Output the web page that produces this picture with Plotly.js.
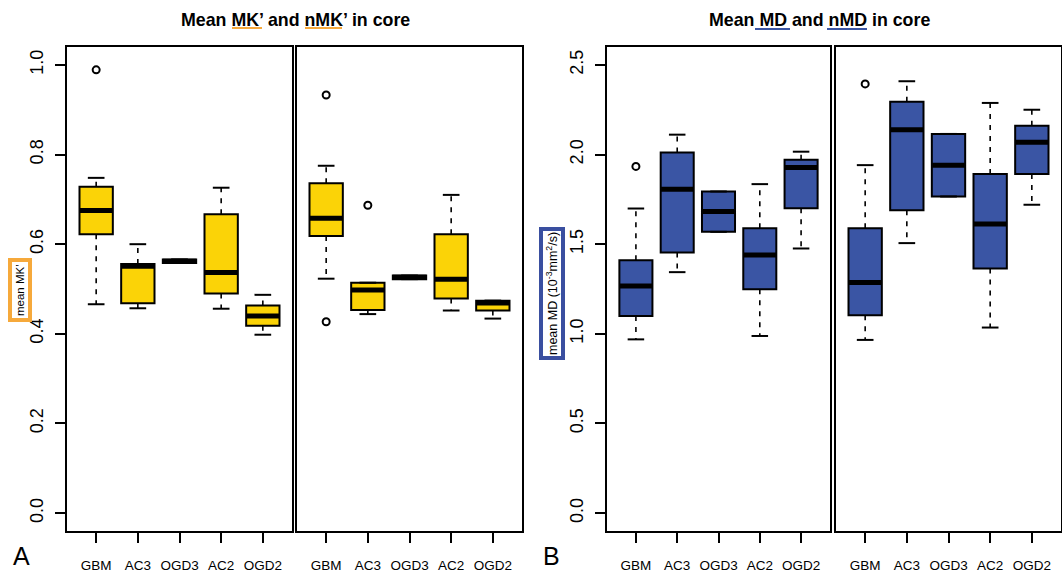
<!DOCTYPE html>
<html><head><meta charset="utf-8">
<script src="https://cdn.plot.ly/plotly-3.0.1.min.js"></script>
<style>html,body{margin:0;padding:0;background:#fff}</style>
</head><body><div id="chart" style="width:1062px;height:573px"></div>
<script>
const categories = ['GBM','AC3','OGD3','AC2','OGD2'];

// Panel A left: mean MK'
const mk_lower  = [0.466, 0.457, 0.558, 0.456, 0.398];
const mk_q1     = [0.622, 0.468, 0.558, 0.490, 0.418];
const mk_median = [0.675, 0.551, 0.562, 0.537, 0.440];
const mk_q3     = [0.728, 0.556, 0.566, 0.667, 0.463];
const mk_upper  = [0.748, 0.600, 0.566, 0.726, 0.487];
const mk_outCat = ['GBM'];
const mk_outVal = [0.989];

// Panel A right: normalized MK'
const nmk_lower  = [0.523, 0.444, 0.522, 0.452, 0.434];
const nmk_q1     = [0.618, 0.453, 0.522, 0.479, 0.452];
const nmk_median = [0.658, 0.498, 0.526, 0.522, 0.469];
const nmk_q3     = [0.736, 0.514, 0.530, 0.622, 0.474];
const nmk_upper  = [0.775, 0.514, 0.530, 0.710, 0.474];
const nmk_outCat = ['GBM', 'GBM', 'AC3'];
const nmk_outVal = [0.933, 0.427, 0.687];

// Panel B left: mean MD
const md_lower  = [0.969, 1.344, 1.569, 0.988, 1.476];
const md_q1     = [1.099, 1.454, 1.569, 1.249, 1.701];
const md_median = [1.267, 1.806, 1.683, 1.439, 1.928];
const md_q3     = [1.411, 2.012, 1.794, 1.589, 1.971];
const md_upper  = [1.699, 2.111, 1.794, 1.835, 2.016];
const md_outCat = ['GBM'];
const md_outVal = [1.934];

// Panel B right: normalized MD
const nmd_lower  = [0.966, 1.506, 1.766, 1.035, 1.720];
const nmd_q1     = [1.103, 1.690, 1.766, 1.364, 1.891];
const nmd_median = [1.286, 2.139, 1.941, 1.612, 2.068];
const nmd_q3     = [1.589, 2.295, 2.115, 1.891, 2.161];
const nmd_upper  = [1.941, 2.409, 2.115, 2.288, 2.250];
const nmd_outCat = ['GBM'];
const nmd_outVal = [2.394];

const yTicksA = [0, 0.2, 0.4, 0.6, 0.8, 1.0];
const yTicksB = [0, 0.5, 1.0, 1.5, 2.0, 2.5];

const YELLOW = '#FBD307';
const BLUE = '#3A55A4';
const W = 1062, H = 573;
const pos = categories.map((c, i) => i);

function panelTraces(lower, q1, med, q3, upper, outCat, outVal, color, xa, ya) {
  const traces = [];
  traces.push({
    type: 'box', x: pos, q1: q1, median: med, q3: q3,
    lowerfence: q1, upperfence: q3, width: 0.8, whiskerwidth: 0,
    fillcolor: color, line: {color: '#000', width: 2},
    boxpoints: false, hoverinfo: 'skip', showlegend: false,
    xaxis: xa, yaxis: ya
  });
  const wx = [], wy = [], cx = [], cy = [], mx = [], my = [];
  pos.forEach((p, i) => {
    if (upper[i] > q3[i]) { wx.push(p, p, null); wy.push(q3[i], upper[i], null); }
    if (lower[i] < q1[i]) { wx.push(p, p, null); wy.push(q1[i], lower[i], null); }
    cx.push(p - 0.2, p + 0.2, null); cy.push(upper[i], upper[i], null);
    cx.push(p - 0.2, p + 0.2, null); cy.push(lower[i], lower[i], null);
    mx.push(p - 0.4, p + 0.4, null); my.push(med[i], med[i], null);
  });
  traces.push({type: 'scatter', mode: 'lines', x: wx, y: wy,
    line: {color: '#000', width: 1.6, dash: '5px,6px'}, showlegend: false, hoverinfo: 'skip', xaxis: xa, yaxis: ya});
  traces.push({type: 'scatter', mode: 'lines', x: cx, y: cy,
    line: {color: '#000', width: 2}, showlegend: false, hoverinfo: 'skip', xaxis: xa, yaxis: ya});
  traces.push({type: 'scatter', mode: 'lines', x: mx, y: my,
    line: {color: '#000', width: 5}, showlegend: false, hoverinfo: 'skip', xaxis: xa, yaxis: ya});
  traces.push({type: 'scatter', mode: 'markers', x: outCat.map(c => categories.indexOf(c)), y: outVal,
    marker: {symbol: 'circle-open', size: 7, color: '#000', line: {width: 2, color: '#000'}},
    showlegend: false, hoverinfo: 'skip', xaxis: xa, yaxis: ya});
  return traces;
}

const data = [].concat(
  panelTraces(mk_lower, mk_q1, mk_median, mk_q3, mk_upper, mk_outCat, mk_outVal, YELLOW, 'x', 'y'),
  panelTraces(nmk_lower, nmk_q1, nmk_median, nmk_q3, nmk_upper, nmk_outCat, nmk_outVal, YELLOW, 'x2', 'y2'),
  panelTraces(md_lower, md_q1, md_median, md_q3, md_upper, md_outCat, md_outVal, BLUE, 'x3', 'y3'),
  panelTraces(nmd_lower, nmd_q1, nmd_median, nmd_q3, nmd_upper, nmd_outCat, nmd_outVal, BLUE, 'x4', 'y4')
);

const FONT = 'Liberation Sans, Arial, sans-serif';
function xAxis(l, r, anchor) {
  return {domain: [l / W, r / W], anchor: anchor, range: [-0.7, 4.7],
    showline: true, mirror: true, linewidth: 2, linecolor: '#000',
    ticks: 'outside', ticklen: 10, tickwidth: 2, tickcolor: '#000',
    tickvals: pos, ticktext: categories, ticklabelstandoff: 11,
    tickfont: {family: FONT, size: 13.5, color: '#000'},
    showgrid: false, zeroline: false, fixedrange: true};
}
const yDom = [1 - 531 / H, 1 - 47 / H];
function yAxis(anchor, range, ticks, show) {
  return {domain: yDom, anchor: anchor, range: range,
    showline: true, mirror: true, linewidth: 2, linecolor: '#000',
    ticks: show ? 'outside' : '', ticklen: 10, tickwidth: 2, tickcolor: '#000',
    tickvals: ticks, ticktext: ticks.map(v => v.toFixed(1)), showticklabels: show,
    tickangle: -90, ticklabelstandoff: 5,
    tickfont: {family: FONT, size: 18, color: '#000'},
    showgrid: false, zeroline: false, fixedrange: true};
}

const rangeA = [-0.04, 1.04];
const rangeB = [-0.1, 2.6];

function px(x) { return x / W; }
function py(y) { return 1 - y / H; }

const layout = {
  width: W, height: H, margin: {l: 0, r: 0, t: 0, b: 0},
  paper_bgcolor: '#fff', plot_bgcolor: '#fff', showlegend: false,
  xaxis: xAxis(67, 292, 'y'), yaxis: yAxis('x', rangeA, yTicksA, true),
  xaxis2: xAxis(297, 522, 'y2'), yaxis2: yAxis('x2', rangeA, yTicksA, false),
  xaxis3: xAxis(607, 830, 'y3'), yaxis3: yAxis('x3', rangeB, yTicksB, true),
  xaxis4: xAxis(836, 1061, 'y4'), yaxis4: yAxis('x4', rangeB, yTicksB, false),
  annotations: [
    {text: '<b>Mean MK’ and nMK’ in core</b>', xref: 'paper', yref: 'paper', x: px(295), y: py(20),
     xanchor: 'center', yanchor: 'middle', showarrow: false, font: {family: FONT, size: 17.8, color: '#000'}},
    {text: '<b>Mean MD and nMD in core</b>', xref: 'paper', yref: 'paper', x: px(819), y: py(20),
     xanchor: 'center', yanchor: 'middle', showarrow: false, font: {family: FONT, size: 17.8, color: '#000'}},
    {text: 'A', xref: 'paper', yref: 'paper', x: px(21), y: py(556), xanchor: 'center', yanchor: 'middle',
     showarrow: false, font: {family: FONT, size: 25, color: '#000'}},
    {text: 'B', xref: 'paper', yref: 'paper', x: px(551), y: py(556), xanchor: 'center', yanchor: 'middle',
     showarrow: false, font: {family: FONT, size: 25, color: '#000'}},
    {text: 'mean MK’', xref: 'paper', yref: 'paper', x: px(20), y: py(290), xanchor: 'center', yanchor: 'middle',
     textangle: -90, showarrow: false, bgcolor: '#fff', bordercolor: '#F6A93B', borderwidth: 4, borderpad: 2,
     font: {family: FONT, size: 11.5, color: '#000'}},
    {text: 'mean MD (10<sup>-3</sup>mm<sup>2</sup>/s)', xref: 'paper', yref: 'paper', x: px(551.5), y: py(293.5),
     xanchor: 'center', yanchor: 'middle', textangle: -90, showarrow: false, bgcolor: '#fff',
     bordercolor: '#3A4FA0', borderwidth: 4, borderpad: 1, font: {family: FONT, size: 12.5, color: '#000'}}
  ],
  shapes: [
    {type: 'line', xref: 'paper', yref: 'paper', x0: px(232), x1: px(262), y0: py(28), y1: py(28), line: {color: '#F6A93B', width: 2}},
    {type: 'line', xref: 'paper', yref: 'paper', x0: px(305), x1: px(342), y0: py(28), y1: py(28), line: {color: '#F6A93B', width: 2}},
    {type: 'line', xref: 'paper', yref: 'paper', x0: px(755), x1: px(790), y0: py(29), y1: py(29), line: {color: '#3A55A4', width: 2}},
    {type: 'line', xref: 'paper', yref: 'paper', x0: px(827), x1: px(867), y0: py(29), y1: py(29), line: {color: '#3A55A4', width: 2}}
  ]
};

Plotly.newPlot('chart', data, layout, {staticPlot: true, displayModeBar: false});
</script>
</body></html>
